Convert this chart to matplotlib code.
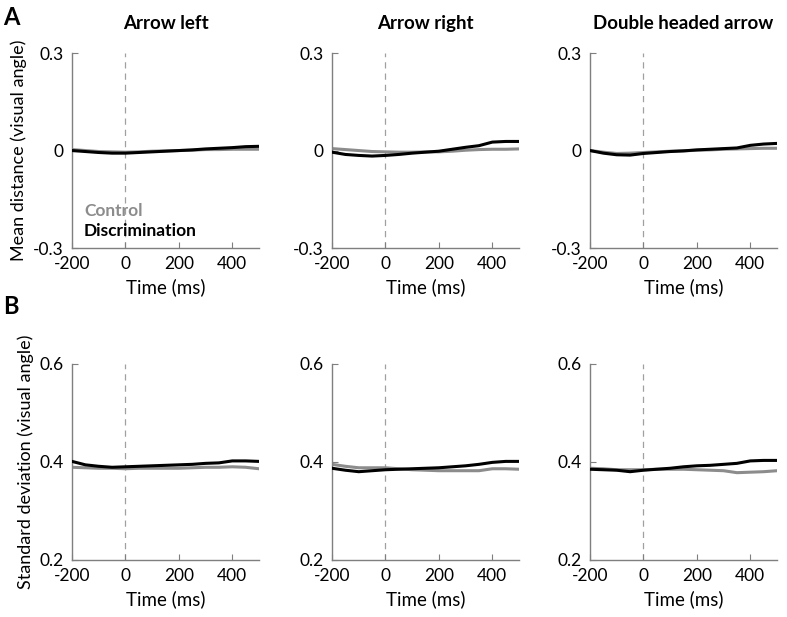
import matplotlib
matplotlib.use('Agg')
import matplotlib.pyplot as plt
import numpy as np

plt.rcParams['font.family'] = ['Lato', 'DejaVu Sans']

# time points (ms)
t = [-200, -150, -100, -50, 0, 50, 100, 150, 200, 250, 300, 350, 400, 450, 500]

titles = ['Arrow left', 'Arrow right', 'Double headed arrow']

# mean distance (visual angle)
mean_ctrl = [
    [0.003, 0.000, -0.003, -0.004, -0.005, -0.004, -0.002, -0.001, 0.000, 0.001, 0.003, 0.003, 0.004, 0.004, 0.004],
    [0.006, 0.003, 0.000, -0.003, -0.004, -0.005, -0.005, -0.004, -0.004, -0.002, 0.001, 0.003, 0.004, 0.004, 0.005],
    [0.000, -0.005, -0.009, -0.008, -0.006, -0.004, -0.002, -0.001, 0.001, 0.002, 0.004, 0.005, 0.006, 0.007, 0.007],
]
mean_disc = [
    [0.000, -0.003, -0.006, -0.008, -0.008, -0.006, -0.004, -0.002, 0.000, 0.002, 0.005, 0.007, 0.009, 0.012, 0.013],
    [-0.005, -0.012, -0.015, -0.017, -0.015, -0.012, -0.008, -0.005, -0.002, 0.004, 0.010, 0.015, 0.026, 0.028, 0.028],
    [0.000, -0.008, -0.013, -0.014, -0.009, -0.006, -0.003, -0.001, 0.002, 0.004, 0.006, 0.008, 0.016, 0.020, 0.022],
]

# standard deviation (visual angle)
sd_ctrl = [
    [0.389, 0.388, 0.387, 0.387, 0.386, 0.387, 0.387, 0.387, 0.387, 0.388, 0.389, 0.389, 0.390, 0.389, 0.386],
    [0.395, 0.391, 0.388, 0.388, 0.388, 0.386, 0.384, 0.383, 0.382, 0.382, 0.382, 0.382, 0.386, 0.386, 0.385],
    [0.387, 0.386, 0.384, 0.384, 0.384, 0.385, 0.385, 0.385, 0.384, 0.383, 0.382, 0.378, 0.379, 0.380, 0.382],
]
sd_disc = [
    [0.401, 0.394, 0.391, 0.389, 0.390, 0.391, 0.392, 0.393, 0.394, 0.395, 0.397, 0.398, 0.402, 0.402, 0.401],
    [0.387, 0.383, 0.380, 0.382, 0.384, 0.385, 0.386, 0.387, 0.388, 0.390, 0.392, 0.395, 0.399, 0.401, 0.401],
    [0.385, 0.384, 0.383, 0.380, 0.383, 0.385, 0.387, 0.390, 0.392, 0.393, 0.395, 0.397, 0.402, 0.403, 0.403],
]

GRAY = '#8c8c8c'
SPINE = '#7f7f7f'

fig = plt.figure(figsize=(7.87, 6.17), dpi=100)

lefts = [0.0915, 0.4219, 0.7497]
width = 0.2376
rows = [(0.598, 0.316), (0.0924, 0.318)]


def style_ax(ax, ylim, yticks, ylabels):
    ax.set_xlim(-200, 500)
    ax.set_ylim(*ylim)
    ax.set_xticks([-200, 0, 200, 400])
    ax.set_xticklabels(['-200', '0', '200', '400'])
    ax.set_yticks(yticks)
    ax.set_yticklabels(ylabels)
    for s in ['top', 'right']:
        ax.spines[s].set_visible(False)
    for s in ['left', 'bottom']:
        ax.spines[s].set_color(SPINE)
        ax.spines[s].set_linewidth(1.0)
    ax.tick_params(direction='in', length=4, color=SPINE, labelsize=12.5, pad=6)
    ax.axvline(0, color='#a0a0a0', lw=0.9, ls=(0, (5, 4)), zorder=1)
    ax.set_xlabel('Time (ms)', fontsize=13.5, labelpad=4)


for row in range(2):
    bottom, height = rows[row]
    for col in range(3):
        ax = fig.add_axes([lefts[col], bottom, width, height])
        if row == 0:
            ax.plot(t, mean_ctrl[col], color=GRAY, lw=2.2, zorder=2)
            ax.plot(t, mean_disc[col], color='black', lw=2.2, zorder=3)
            style_ax(ax, (-0.3, 0.3), [-0.3, 0, 0.3], ['-0.3', '0', '0.3'])
            ax.set_title(titles[col], fontsize=13.5, fontweight='bold', pad=17)
        else:
            ax.plot(t, sd_ctrl[col], color=GRAY, lw=2.2, zorder=2)
            ax.plot(t, sd_disc[col], color='black', lw=2.2, zorder=3)
            style_ax(ax, (0.2, 0.6), [0.2, 0.4, 0.6], ['0.2', '0.4', '0.6'])
        if col == 0:
            if row == 0:
                ax.set_ylabel('Mean distance (visual angle)', fontsize=13, labelpad=4)
                ax.text(0.064, 0.19, 'Control', transform=ax.transAxes, color=GRAY,
                        fontsize=12.5, fontweight='bold', va='center')
                ax.text(0.064, 0.087, 'Discrimination', transform=ax.transAxes, color='black',
                        fontsize=12.5, fontweight='bold', va='center')
            else:
                ax.set_ylabel('Standard deviation (visual angle)', fontsize=13, labelpad=4)

fig.text(0.004, 0.99, 'A', fontsize=17, fontweight='bold', va='top')
fig.text(0.004, 0.522, 'B', fontsize=17, fontweight='bold', va='top')

fig.savefig('out.png', dpi=100)
